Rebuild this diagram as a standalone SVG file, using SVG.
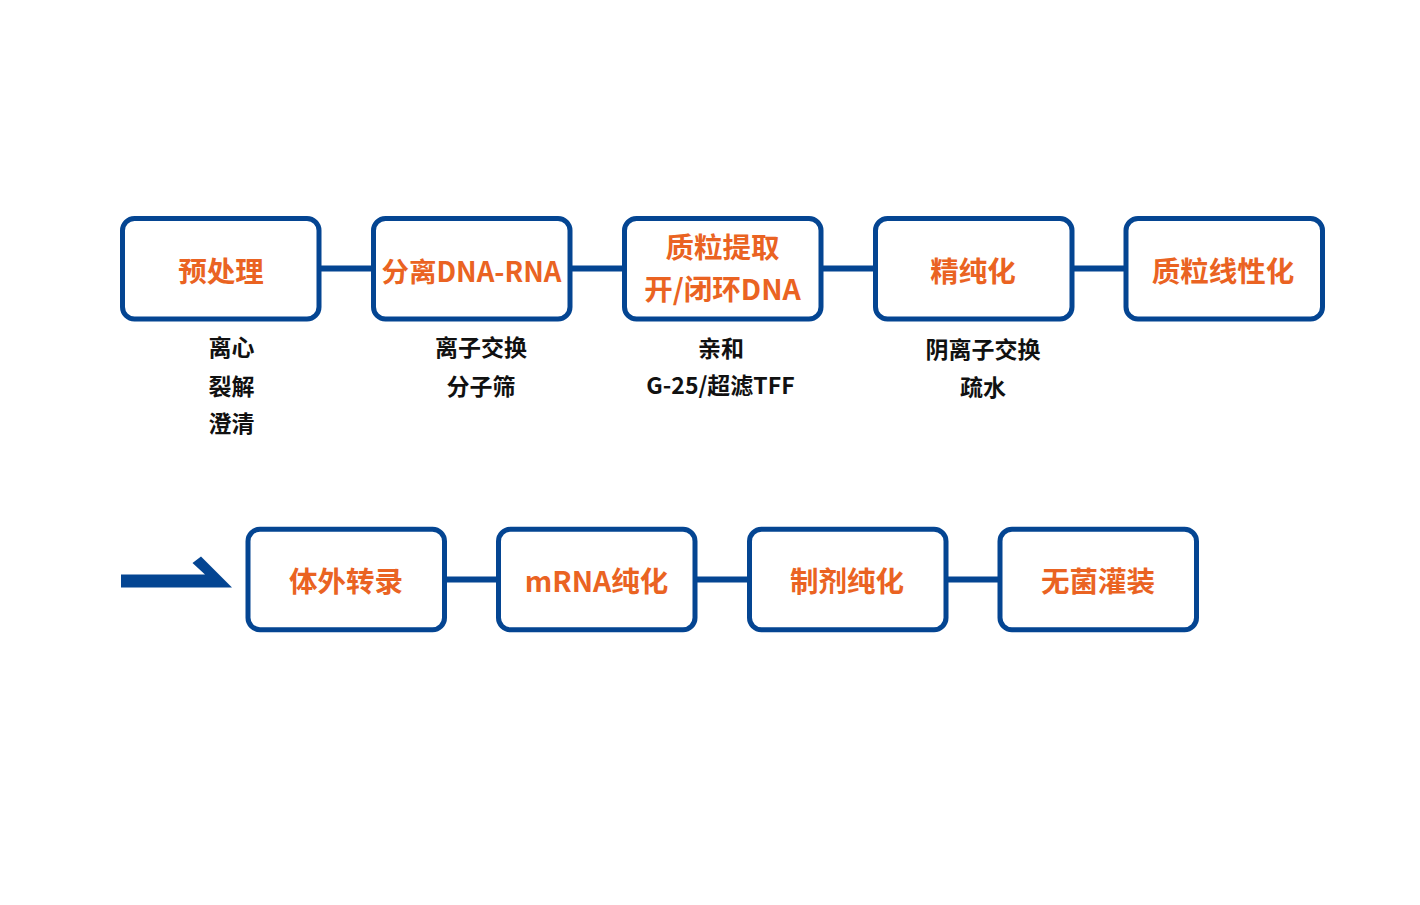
<svg xmlns="http://www.w3.org/2000/svg" width="1420" height="905" viewBox="0 0 1420 905">
<style>
.box{fill:#fff;stroke:#044592;stroke-width:5}
.conn{stroke:#044592;stroke-width:6;fill:none}
.t{font-family:"Noto Sans CJK SC","Noto Sans",sans-serif;font-weight:700;font-size:28.5px;fill:#EA6322;text-anchor:middle}
.s{font-family:"Noto Sans CJK SC","Noto Sans",sans-serif;font-weight:700;font-size:23px;fill:#111;text-anchor:middle}
</style>
<rect width="1420" height="905" fill="#fff"/>
<g id="connectors">
<line class="conn" x1="319" y1="268.5" x2="373" y2="268.5"/>
<line class="conn" x1="570" y1="268.5" x2="624" y2="268.5"/>
<line class="conn" x1="820" y1="268.5" x2="875" y2="268.5"/>
<line class="conn" x1="1071" y1="268.5" x2="1126" y2="268.5"/>
<line class="conn" x1="444" y1="579.5" x2="498" y2="579.5"/>
<line class="conn" x1="695" y1="579.5" x2="749" y2="579.5"/>
<line class="conn" x1="946" y1="579.5" x2="1000" y2="579.5"/>
<polygon id="start-arrow" fill="#044592" points="121,574.5 205,574.5 192.5,563 201,556.5 232,587.5 121,587.5"/>
</g>
<g id="n1">
<rect class="box" x="122.5" y="218.5" width="196.5" height="100.5" rx="12"/>
<text class="t" x="221" y="282">预处理</text>
<text class="s" x="231.5" y="355.5">离心</text>
<text class="s" x="231.5" y="394.5">裂解</text>
<text class="s" x="231.5" y="431.5">澄清</text>
</g>
<g id="n2">
<rect class="box" x="373.5" y="218.5" width="196.5" height="100.5" rx="12"/>
<text class="t" x="471.5" y="282" style="font-size:27.5px">分离DNA-RNA</text>
<text class="s" x="481" y="356">离子交换</text>
<text class="s" x="481" y="394.5">分子筛</text>
</g>
<g id="n3">
<rect class="box" x="624.5" y="218.5" width="196.5" height="100.5" rx="12"/>
<text class="t" x="722.5" y="258">质粒提取</text>
<text class="t" x="722.5" y="299.5">开/闭环DNA</text>
<text class="s" x="721" y="357">亲和</text>
<text class="s" x="720.5" y="394">G-25/超滤TFF</text>
</g>
<g id="n4">
<rect class="box" x="875.5" y="218.5" width="196.5" height="100.5" rx="12"/>
<text class="t" x="973" y="282">精纯化</text>
<text class="s" x="983" y="358">阴离子交换</text>
<text class="s" x="983" y="396">疏水</text>
</g>
<g id="n5">
<rect class="box" x="1126" y="218.5" width="196.5" height="100.5" rx="12"/>
<text class="t" x="1223" y="282">质粒线性化</text>
</g>
<g id="n6">
<rect class="box" x="248" y="529.2" width="196.5" height="100.5" rx="12"/>
<text class="t" x="346" y="592">体外转录</text>
</g>
<g id="n7">
<rect class="box" x="498.5" y="529.2" width="196.5" height="100.5" rx="12"/>
<text class="t" x="596.5" y="592">mRNA纯化</text>
</g>
<g id="n8">
<rect class="box" x="749.5" y="529.2" width="196.5" height="100.5" rx="12"/>
<text class="t" x="847" y="592">制剂纯化</text>
</g>
<g id="n9">
<rect class="box" x="1000" y="529.2" width="196.5" height="100.5" rx="12"/>
<text class="t" x="1098" y="592">无菌灌装</text>
</g>
</svg>
